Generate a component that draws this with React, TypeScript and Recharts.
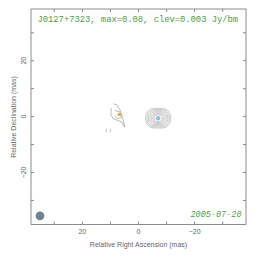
import React from 'react';
import {
  ComposedChart, XAxis, YAxis, Scatter, ReferenceArea, ReferenceDot,
} from 'recharts';

const xTicks = [30, 20, 10, 0, -10, -20, -30];
const yTicks = [-30, -20, -10, 0, 10, 20, 30];
const majorTicks = [20, 0, -20];
const xDomain = [-38.3, 38.3];
const yDomain = [-38.6, 38.5];

// main component: concentric contour half-sizes (mas)
const coreCenter = { ra: -7.0, dec: -0.57 };
const coreHalfW = [4.45, 3.95, 3.45, 2.95, 2.45, 1.95, 1.45];
const coreHalfH = [3.5, 3.1, 2.7, 2.3, 1.9, 1.5, 1.15];

// secondary component contours (mas)
const jetOuter = [
  { ra: 9.04, dec: 4.55 }, { ra: 7.83, dec: 4.3 }, { ra: 6.65, dec: 2.51 },
  { ra: 5.48, dec: -1.08 }, { ra: 4.88, dec: -3.8 }, { ra: 6.05, dec: -1.9 },
  { ra: 9.04, dec: -0.72 }, { ra: 9.86, dec: 0.72 }, { ra: 9.68, dec: 3.12 },
];
const jetInner = [
  { ra: 8.43, dec: 2.15 }, { ra: 6.65, dec: 1.68 }, { ra: 6.05, dec: -0.22 },
  { ra: 7.26, dec: -0.72 }, { ra: 8.43, dec: 0.14 },
];
const blobLeft = [{ ra: 11.3, dec: -4.3 }, { ra: 11.6, dec: -4.95 }, { ra: 11.3, dec: -5.6 }];
const blobRight = [{ ra: 10.2, dec: -4.3 }, { ra: 9.9, dec: -4.95 }, { ra: 10.2, dec: -5.6 }];

const jetPeak = { ra: 6.9, dec: 0.72 };
const beam = { ra: 35.1, dec: -35.5, major: 3.1, minor: 3.1 };

const title = 'J0127+7323, max=0.08, clev=0.003 Jy/bm';
const dateLabel = '2005-07-20';
const xLabel = 'Relative Right Ascension (mas)';
const yLabel = 'Relative Declination (mas)';

const FRAME = '#8c8c8c';
const CONTOUR = '#a8a8a8';
const GREEN = '#4a9e4a';
const TICKTXT = '#666';

const BottomTick = (p: any) => {
  const { x, y, payload } = p;
  const v = payload.value;
  return (
    <g>
      <line x1={x} y1={y} x2={x} y2={y - 3} stroke={FRAME} strokeWidth={1} />
      {majorTicks.includes(v) && (
        <text x={x} y={y + 9} textAnchor="middle" fontSize={7} fill={TICKTXT}
          fontFamily="Liberation Sans, Arial, sans-serif">
          {v < 0 ? '\u2212' + Math.abs(v) : String(v)}
        </text>
      )}
    </g>
  );
};
const TopTick = (p: any) => {
  const { x, y } = p;
  return <line x1={x} y1={y} x2={x} y2={y + 3} stroke={FRAME} strokeWidth={1} />;
};
const LeftTick = (p: any) => {
  const { x, y, payload } = p;
  const v = payload.value;
  const tx = x - 7;
  return (
    <g>
      <line x1={x} y1={y} x2={x + 3} y2={y} stroke={FRAME} strokeWidth={1} />
      {majorTicks.includes(v) && (
        <text x={tx} y={y} textAnchor="middle" dominantBaseline="central" fontSize={7}
          fill={TICKTXT} fontFamily="Liberation Sans, Arial, sans-serif"
          transform={`rotate(-90, ${tx}, ${y})`}>
          {v < 0 ? '\u2212' + Math.abs(v) : String(v)}
        </text>
      )}
    </g>
  );
};
const RightTick = (p: any) => {
  const { x, y } = p;
  return <line x1={x} y1={y} x2={x - 3} y2={y} stroke={FRAME} strokeWidth={1} />;
};

const RoundRect = (p: any) => {
  const x = Math.min(p.x, p.x + p.width);
  const y = Math.min(p.y, p.y + p.height);
  const w = Math.abs(p.width);
  const h = Math.abs(p.height);
  const r = Math.min(w, h) * 0.42;
  return <rect x={x} y={y} width={w} height={h} rx={r} ry={r} fill="none" stroke={CONTOUR} strokeWidth={0.6} />;
};
const BeamShape = (p: any) => {
  const x = Math.min(p.x, p.x + p.width);
  const y = Math.min(p.y, p.y + p.height);
  const w = Math.abs(p.width);
  const h = Math.abs(p.height);
  return <ellipse cx={x + w / 2} cy={y + h / 2} rx={w / 2} ry={h / 2} fill="#6f8194" />;
};
const NoPoint = () => <g />;

export default function App() {
  return (
    <div style={{ position: 'absolute', left: 0, top: 0, width: 264, height: 262 }}>
      <ComposedChart width={264} height={262} margin={{ top: 8, left: 30, right: 17, bottom: 36.5 }}>
        <XAxis xAxisId="b" type="number" dataKey="ra" domain={xDomain} reversed ticks={xTicks}
          orientation="bottom" height={1} tickSize={0} tickMargin={0} tickLine={false}
          axisLine={{ stroke: FRAME }} tick={<BottomTick />} interval={0} allowDataOverflow />
        <XAxis xAxisId="t" type="number" dataKey="ra" domain={xDomain} reversed ticks={xTicks}
          orientation="top" height={1} tickSize={0} tickMargin={0} tickLine={false}
          axisLine={{ stroke: FRAME }} tick={<TopTick />} interval={0} allowDataOverflow />
        <YAxis yAxisId="l" type="number" dataKey="dec" domain={yDomain} ticks={yTicks}
          orientation="left" width={1} tickSize={0} tickMargin={0} tickLine={false}
          axisLine={{ stroke: FRAME }} tick={<LeftTick />} interval={0} allowDataOverflow />
        <YAxis yAxisId="r" type="number" dataKey="dec" domain={yDomain} ticks={yTicks}
          orientation="right" width={1} tickSize={0} tickMargin={0} tickLine={false}
          axisLine={{ stroke: FRAME }} tick={<RightTick />} interval={0} allowDataOverflow />

        {coreHalfW.map((hw, i) => (
          <ReferenceArea key={'c' + i} xAxisId="b" yAxisId="l"
            x1={coreCenter.ra - hw} x2={coreCenter.ra + hw}
            y1={coreCenter.dec - coreHalfH[i]} y2={coreCenter.dec + coreHalfH[i]}
            shape={RoundRect} />
        ))}
        <ReferenceArea xAxisId="b" yAxisId="l"
          x1={beam.ra - beam.major / 2} x2={beam.ra + beam.major / 2}
          y1={beam.dec - beam.minor / 2} y2={beam.dec + beam.minor / 2}
          shape={BeamShape} />

        <Scatter xAxisId="b" yAxisId="l" data={jetOuter} dataKey="dec" fill={CONTOUR}
          line={{ stroke: CONTOUR, strokeWidth: 0.8 }} lineJointType="cardinalClosed"
          shape={NoPoint} isAnimationActive={false} />
        <Scatter xAxisId="b" yAxisId="l" data={jetInner} dataKey="dec" fill={CONTOUR}
          line={{ stroke: CONTOUR, strokeWidth: 0.8 }} lineJointType="cardinalClosed"
          shape={NoPoint} isAnimationActive={false} />
        <Scatter xAxisId="b" yAxisId="l" data={blobLeft} dataKey="dec" fill={CONTOUR}
          line={{ stroke: CONTOUR, strokeWidth: 0.8 }} lineJointType="linear"
          shape={NoPoint} isAnimationActive={false} />
        <Scatter xAxisId="b" yAxisId="l" data={blobRight} dataKey="dec" fill={CONTOUR}
          line={{ stroke: CONTOUR, strokeWidth: 0.8 }} lineJointType="linear"
          shape={NoPoint} isAnimationActive={false} />

        <ReferenceDot xAxisId="b" yAxisId="l" x={coreCenter.ra} y={coreCenter.dec} r={2.3}
          fill="#7fc6f2" stroke="none" />
        <ReferenceDot xAxisId="b" yAxisId="l" x={jetPeak.ra} y={jetPeak.dec} r={1.7}
          fill="#f5a21c" stroke="none" />
      </ComposedChart>

      <div style={{ position: 'absolute', left: 37.5, top: 14, fontFamily: 'Liberation Mono, monospace',
        fontSize: 8.8, lineHeight: '12px', color: GREEN, whiteSpace: 'nowrap' }}>{title}</div>
      <div style={{ position: 'absolute', left: 190.5, top: 209, fontFamily: 'Liberation Mono, monospace',
        fontStyle: 'italic', fontSize: 8.5, lineHeight: '12px', color: GREEN, whiteSpace: 'nowrap' }}>{dateLabel}</div>
      <div style={{ position: 'absolute', left: 0, width: 277, top: 240, textAlign: 'center',
        fontFamily: 'Liberation Sans, Arial, sans-serif', fontSize: 7, lineHeight: '10px', color: TICKTXT,
        whiteSpace: 'nowrap' }}>{xLabel}</div>
      <div style={{ position: 'absolute', left: 14, top: 117, width: 0, height: 0 }}>
        <div style={{ position: 'absolute', left: -60, top: -5, width: 120, textAlign: 'center',
          transform: 'rotate(-90deg)', fontFamily: 'Liberation Sans, Arial, sans-serif', fontSize: 7,
          lineHeight: '10px', color: TICKTXT, whiteSpace: 'nowrap' }}>{yLabel}</div>
      </div>
    </div>
  );
}
